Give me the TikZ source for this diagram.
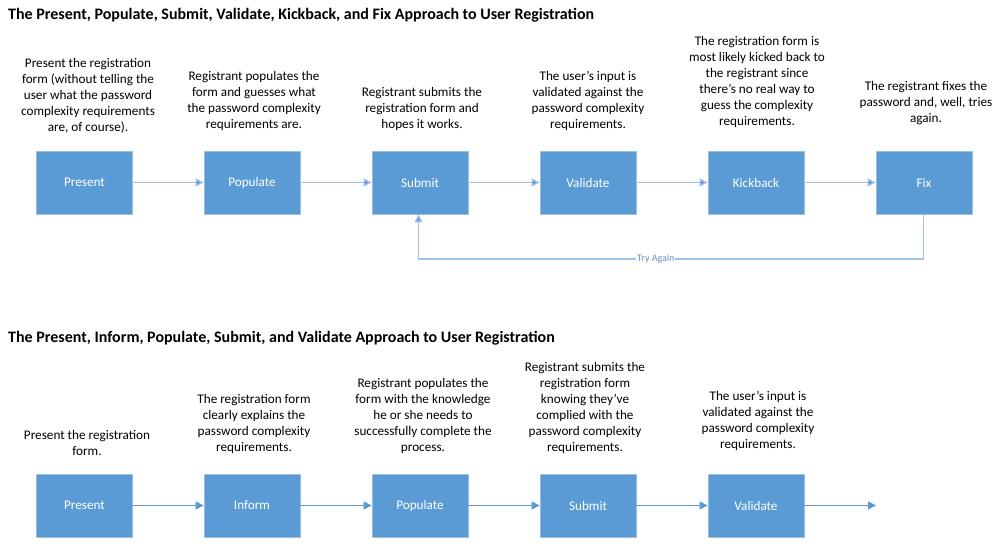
\documentclass[tikz,border=0pt]{standalone}
\usepackage{fontspec}
\setmainfont{Carlito}
\usetikzlibrary{arrows.meta}
\definecolor{boxblue}{HTML}{5B9BD5}
\definecolor{boxedge}{HTML}{9FBFE0}
\definecolor{lightline}{HTML}{9DC3E6}
\definecolor{labelblue}{HTML}{6C8EBF}
\begin{document}
\begin{tikzpicture}[x=1pt,y=-1pt,
  stepbox/.style={draw=boxedge, line width=0.8pt, fill=boxblue, minimum width=96pt, minimum height=63pt, inner sep=0pt, text=white, font=\fontsize{13.2}{15}\selectfont},
  desc/.style={align=center, font=\fontsize{13.2}{16}\selectfont, inner sep=0pt},
  heading/.style={anchor=west, font=\fontsize{16}{18}\selectfont\bfseries, inner sep=0pt},
  flowA/.style={draw=lightline, line width=1.3pt, -{Triangle[length=8pt,width=8pt,fill=boxblue]}},
  flowB/.style={draw=boxblue, line width=1pt, -{Triangle[length=8pt,width=8pt,fill=boxblue]}},
  tag/.style={font=\fontsize{10}{12}\selectfont, text=labelblue, fill=white, inner sep=1pt}
]
\useasboundingbox (0,0) rectangle (1004,546);
\fill[white] (0,0) rectangle (1004,546);

% ---------- first diagram ----------
\node[heading] (t1) at (8,15) {The Present, Populate, Submit, Validate, Kickback, and Fix Approach to User Registration};

\node[stepbox] (a1) at (84.5,182.5) {Present};
\node[stepbox] (a2) at (252,182.5) {Populate};
\node[stepbox] (a3) at (420,182.5) {Submit};
\node[stepbox] (a4) at (588,182.5) {Validate};
\node[stepbox] (a5) at (756,182.5) {Kickback};
\node[stepbox] (a6) at (924,182.5) {Fix};

\node[desc] (d1) at (88,96) {Present the registration\\form (without telling the\\user what the password\\complexity requirements\\are, of course).};
\node[desc] (d2) at (254,101) {Registrant populates the\\form and guesses what\\the password complexity\\requirements are.};
\node[desc] (d3) at (422,109) {Registrant submits the\\registration form and\\hopes it works.};
\node[desc] (d4) at (588,101) {The user’s input is\\validated against the\\password complexity\\requirements.};
\node[desc] (d5) at (757,82) {The registration form is\\most likely kicked back to\\the registrant since\\there’s no real way to\\guess the complexity\\requirements.};
\node[desc] (d6) at (926,103) {The registrant fixes the\\password and, well, tries\\again.};

\draw[flowA] (a1) -- (a2);
\draw[flowA] (a2) -- (a3);
\draw[flowA] (a3) -- (a4);
\draw[flowA] (a4) -- (a5);
\draw[flowA] (a5) -- (a6);

\coordinate (c1) at (923.5,259);
\coordinate (c2) at (418.5,259);
\draw[flowA] (a6.south -| c1) -- (c1) -- node[tag, pos=0.53] (lbl) {Try Again} (c2) -- (a3.south -| c2);

% ---------- second diagram ----------
\node[heading] (t2) at (8,338) {The Present, Inform, Populate, Submit, and Validate Approach to User Registration};

\node[stepbox] (b1) at (84.5,505.5) {Present};
\node[stepbox] (b2) at (252,505.5) {Inform};
\node[stepbox] (b3) at (420,505.5) {Populate};
\node[stepbox] (b4) at (588,505.5) {Submit};
\node[stepbox] (b5) at (756,505.5) {Validate};
\coordinate (bend) at (876,505.5);

\node[desc] (e1) at (87,443) {Present the registration\\form.};
\node[desc] (e2) at (254,424) {The registration form\\clearly explains the\\password complexity\\requirements.};
\node[desc] (e3) at (423,416) {Registrant populates the\\form with the knowledge\\he or she needs to\\successfully complete the\\process.};
\node[desc] (e4) at (585,408) {Registrant submits the\\registration form\\knowing they’ve\\complied with the\\password complexity\\requirements.};
\node[desc] (e5) at (758,421) {The user’s input is\\validated against the\\password complexity\\requirements.};

\draw[flowB] (b1) -- (b2);
\draw[flowB] (b2) -- (b3);
\draw[flowB] (b3) -- (b4);
\draw[flowB] (b4) -- (b5);
\draw[flowB] (b5) -- (bend);
\end{tikzpicture}
\end{document}
